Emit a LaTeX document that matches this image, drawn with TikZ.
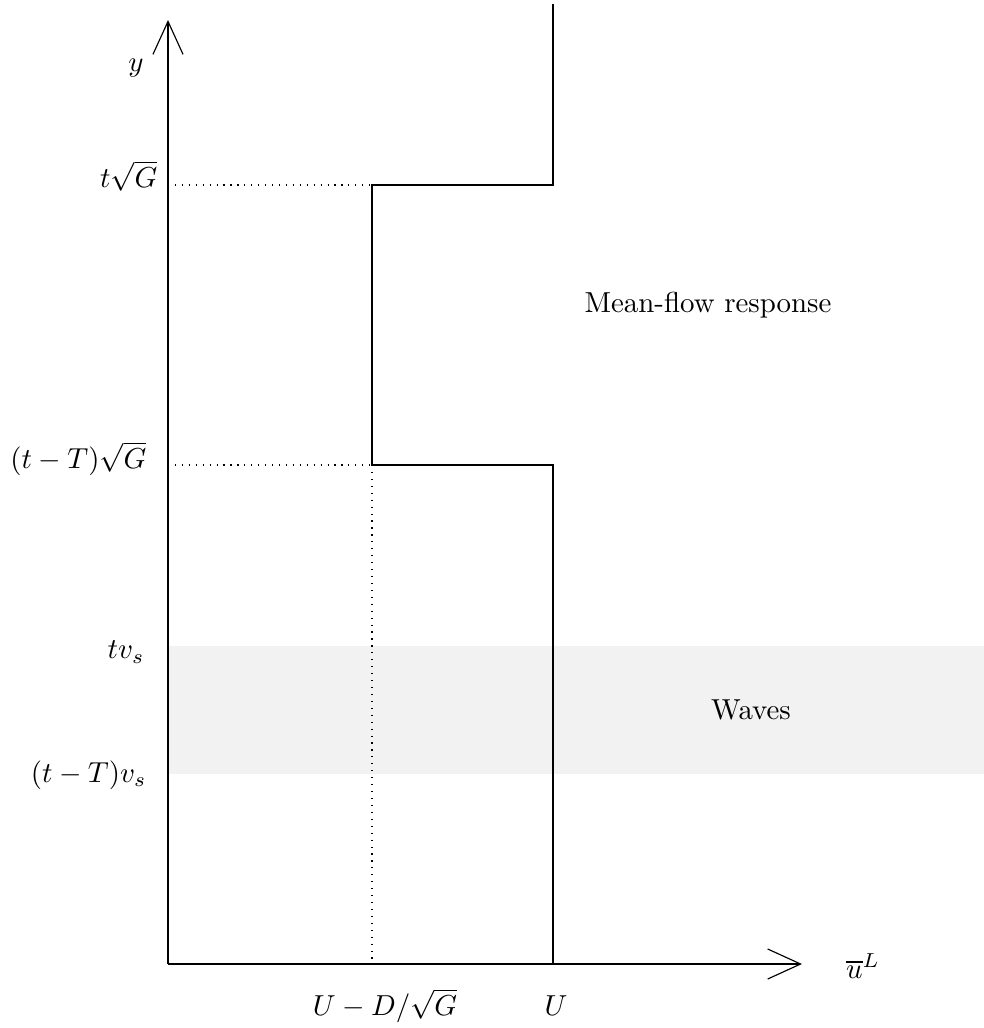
\documentclass[tikz,border=0pt]{standalone}
\usetikzlibrary{arrows.meta}
\begin{document}
\begin{tikzpicture}[x=0.01216cm,y=-0.01216cm,
  axis/.style={-{Straight Barb[length=11.4pt,width=10.4pt]}},
  guide/.style={dotted},
  lbl/.style={inner sep=0pt},
  ylbl/.style={inner sep=0pt,anchor=east}]
\useasboundingbox (0,0) rectangle (984,1028);
% shaded waves band
\fill[gray!10] (168,646) rectangle (984,774);
% coordinates
\coordinate (O) at (168,964);
\coordinate (ytip) at (168,20);
\coordinate (xtip) at (802,964);
\coordinate (Ub) at (553,964);
\coordinate (Ul) at (553,465);
\coordinate (Dl) at (372,465);
\coordinate (Dh) at (372,185);
\coordinate (Uh) at (553,185);
\coordinate (Ut) at (553,4);
\coordinate (Db) at (372,964);
\coordinate (Yl) at (168,465);
\coordinate (Yh) at (168,185);
% dotted guides
\draw[guide] (Yh) -- (Dh);
\draw[guide] (Yl) -- (Dl);
\draw[guide] (Dl) -- (Db);
% axes
\draw[axis] (O) -- (ytip);
\draw[axis] (O) -- (xtip);
% profile
\draw (Ub) -- (Ul) -- (Dl) -- (Dh) -- (Uh) -- (Ut);
% labels
\node[lbl] (ylab) at (136,68) {$y$};
\node[ylbl] (l1) at (158,176) {$t\sqrt{G}$};
\node[ylbl] (l2) at (147,459) {$(t-T)\sqrt{G}$};
\node[ylbl] (l3) at (145,652) {$tv_s$};
\node[ylbl] (l4) at (147,775) {$(t-T)v_s$};
\node[lbl] (xlab) at (863,966) {$\overline{u}^L$};
\node[lbl] (b1) at (385,1006) {$U-D/\sqrt{G}$};
\node[lbl] (b2) at (556,1006) {$U$};
\node[lbl] (mf) at (708,305) {Mean-flow response};
\node[lbl] (wv) at (751,710) {Waves};
\end{tikzpicture}
\end{document}
